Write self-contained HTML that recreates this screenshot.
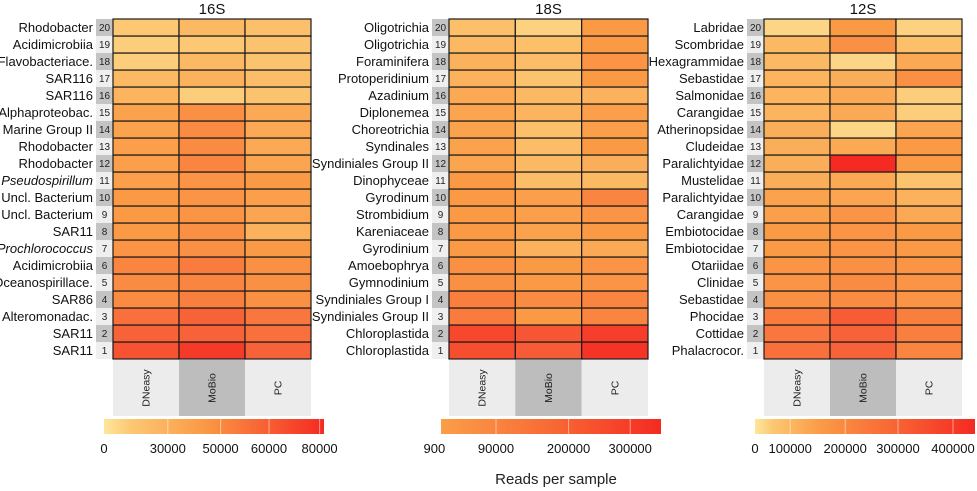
<!DOCTYPE html>
<html><head><meta charset="utf-8"><style>
html,body{margin:0;padding:0;background:#fff;}
svg{display:block;font-family:"Liberation Sans",sans-serif;}
</style></head><body>
<svg id="chart" width="977" height="491" viewBox="0 0 977 491" xmlns="http://www.w3.org/2000/svg">
<defs>
<linearGradient id="g16" x1="0" x2="1"><stop offset="0" stop-color="#fde69c"/><stop offset="0.12" stop-color="#fcc873"/><stop offset="0.45" stop-color="#fb9a45"/><stop offset="1" stop-color="#f52a22"/></linearGradient>
<linearGradient id="g18" x1="0" x2="1"><stop offset="0" stop-color="#fb9e48"/><stop offset="0.5" stop-color="#f86a35"/><stop offset="1" stop-color="#f52a22"/></linearGradient>
<linearGradient id="g12" x1="0" x2="1"><stop offset="0" stop-color="#fde69c"/><stop offset="0.08" stop-color="#fcc873"/><stop offset="0.3" stop-color="#fb9a45"/><stop offset="1" stop-color="#f52a22"/></linearGradient>
</defs>
<text x="556" y="484" font-size="15" text-anchor="middle" fill="#222">Reads per sample</text>
</svg>
<script>
const columns = ["DNeasy","MoBio","PC"];
const labels16 = ["SAR11","SAR11","Alteromonadac.","SAR86","Oceanospirillace.","Acidimicrobiia","Prochlorococcus","SAR11","Uncl. Bacterium","Uncl. Bacterium","Pseudospirillum","Rhodobacter","Rhodobacter","Marine Group II","Alphaproteobac.","SAR116","SAR116","Flavobacteriace.","Acidimicrobiia","Rhodobacter"];
const labels18 = ["Chloroplastida","Chloroplastida","Syndiniales Group II","Syndiniales Group I","Gymnodinium","Amoebophrya","Gyrodinium","Kareniaceae","Strombidium","Gyrodinum","Dinophyceae","Syndiniales Group II","Syndinales","Choreotrichia","Diplonemea","Azadinium","Protoperidinium","Foraminifera","Oligotrichia","Oligotrichia"];
const labels12 = ["Phalacrocor.","Cottidae","Phocidae","Sebastidae","Clinidae","Otariidae","Embiotocidae","Embiotocidae","Carangidae","Paralichtyidae","Mustelidae","Paralichtyidae","Cludeidae","Atherinopsidae","Carangidae","Salmonidae","Sebastidae","Hexagrammidae","Scombridae","Labridae"];
// relative intensity (0-1 of colour scale), rows 1..20, columns DNeasy, MoBio, PC
const values16 = [[.8,.92,.72],[.72,.72,.65],[.65,.72,.62],[.52,.58,.5],[.52,.55,.5],[.55,.6,.5],[.48,.5,.45],[.45,.5,.3],[.45,.48,.38],[.45,.48,.42],[.42,.48,.45],[.42,.55,.38],[.42,.52,.35],[.4,.52,.35],[.4,.5,.35],[.28,.12,.18],[.25,.3,.22],[.12,.25,.18],[.12,.15,.18],[.15,.25,.2]];
const values18 = [[.82,.75,.95],[.85,.78,.9],[.6,.45,.55],[.58,.52,.55],[.5,.45,.48],[.5,.45,.48],[.45,.3,.35],[.45,.4,.45],[.45,.42,.48],[.45,.42,.55],[.45,.22,.25],[.38,.25,.32],[.4,.22,.45],[.4,.2,.42],[.38,.28,.42],[.35,.25,.3],[.3,.18,.45],[.3,.22,.48],[.25,.2,.45],[.2,.1,.45]];
const values12 = [[.65,.72,.55],[.62,.72,.58],[.6,.75,.58],[.5,.52,.48],[.48,.52,.48],[.48,.5,.48],[.45,.48,.45],[.45,.48,.45],[.42,.48,.35],[.4,.38,.3],[.32,.35,.18],[.32,1.0,.45],[.32,.35,.45],[.32,.08,.38],[.28,.35,.12],[.28,.35,.12],[.28,.32,.5],[.25,.08,.35],[.25,.5,.2],[.08,.45,.1]];
const ticks16 = ["0","30000","50000","60000","80000"];
const ticks18 = ["900","90000","200000","300000"];
const ticks12 = ["0","100000","200000","300000","400000"];

const NS="http://www.w3.org/2000/svg";
const svg=document.getElementById('chart');
function mk(tag,attrs,parent){const e=document.createElementNS(NS,tag);for(const k in attrs)e.setAttribute(k,attrs[k]);(parent||svg).appendChild(e);return e;}
function lerp(a,b,t){return a+(b-a)*t;}
function hex(c){return [parseInt(c.slice(1,3),16),parseInt(c.slice(3,5),16),parseInt(c.slice(5,7),16)];}
const stops=[[0,"#fde69c"],[0.15,"#fcc873"],[0.45,"#fb9a45"],[0.7,"#f8663a"],[1,"#f52a22"]];
function color(t){t=Math.max(0,Math.min(1,t));for(let i=1;i<stops.length;i++){if(t<=stops[i][0]){const a=stops[i-1],b=stops[i];const f=(t-a[0])/(b[0]-a[0]);const A=hex(a[1]),B=hex(b[1]);return `rgb(${Math.round(lerp(A[0],B[0],f))},${Math.round(lerp(A[1],B[1],f))},${Math.round(lerp(A[2],B[2],f))})`;}}return stops[stops.length-1][1];}

const panels=[
 {id:"16s",title:"16S",x0:113,x1:311,labels:labels16,values:values16,ticks:ticks16,grad:"g16",cb0:104,cb1:324,tickPos:[0,0.29,0.53,0.75,0.98]},
 {id:"18s",title:"18S",x0:449,x1:648,labels:labels18,values:values18,ticks:ticks18,grad:"g18",cb0:441,cb1:661,tickPos:[-0.03,0.25,0.58,0.86]},
 {id:"12s",title:"12S",x0:764,x1:962,labels:labels12,values:values12,ticks:ticks12,grad:"g12",cb0:755,cb1:975,tickPos:[0,0.16,0.41,0.65,0.9]}
];
const yTop=19,yBot=359,nRows=20;
const rowH=(yBot-yTop)/nRows;
function yRow(i){return yBot-(i+1)*rowH;}
panels.forEach(p=>{
 const g=mk('g',{});
 
 
 const cw=(p.x1-p.x0)/columns.length;
 function xCol(j){return p.x0+j*cw;}
 const t=mk('text',{x:(p.x0+p.x1)/2,y:14,'font-size':15,'text-anchor':'middle',fill:'#111'},g);
 t.textContent=p.title;
 
 
 p.values.forEach((row,i)=>{
  const y=yRow(i);
  const nb=mk('rect',{x:p.x0-17,y:y,width:17,height:rowH,fill:(i+1)%2===0?'#c4c4c4':'#efefef'},g);
  
  
  const nt=mk('text',{x:p.x0-8.5,y:y+rowH/2+3.5,'font-size':10,'text-anchor':'middle',fill:'#222'},g);
  nt.textContent=String(i+1);
  
  
  const lt=mk('text',{x:p.x0-20,y:y+rowH/2+4.5,'font-size':13,'text-anchor':'end',fill:'#111'},g);
  lt.textContent=p.labels[i];
  if(p.labels[i]==="Pseudospirillum"||p.labels[i]==="Prochlorococcus")lt.setAttribute('font-style','italic');
  
  
  row.forEach((v,j)=>{
   const c=mk('rect',{x:xCol(j),y:y,width:cw,height:rowH,fill:color(v),stroke:'#1a1a1a','stroke-width':1.2},g);
   
   
  });
 });
 columns.forEach((c,j)=>{
  const s=mk('rect',{x:xCol(j),y:yBot+1,width:cw,height:56,fill:j===1?'#bdbdbd':'#ececec'},g);
  
  
  const cx=xCol(j)+cw/2,cy=yBot+29;
  const st=mk('text',{x:cx,y:cy,'font-size':10.5,'text-anchor':'middle',fill:'#222',transform:`rotate(-90 ${cx} ${cy}) translate(0 3.5)`},g);
  st.textContent=c;
  
  
 });
 const cb=mk('rect',{x:p.cb0,y:419,width:p.cb1-p.cb0,height:15,fill:`url(#${p.grad})`},g);
 
 
 p.ticks.forEach((tk,k)=>{
  const tx=p.cb0+p.tickPos[k]*(p.cb1-p.cb0);
  if(tx>p.cb0+2&&tx<p.cb1-2){
   const tl=mk('line',{x1:tx,x2:tx,y1:419,y2:434,stroke:'#fff','stroke-opacity':0.5},g);
   
   
  }
  const tt=mk('text',{x:tx,y:453,'font-size':13,'text-anchor':'middle',fill:'#111'},g);
  tt.textContent=tk;
  
  
 });
});
</script>
</body></html>
